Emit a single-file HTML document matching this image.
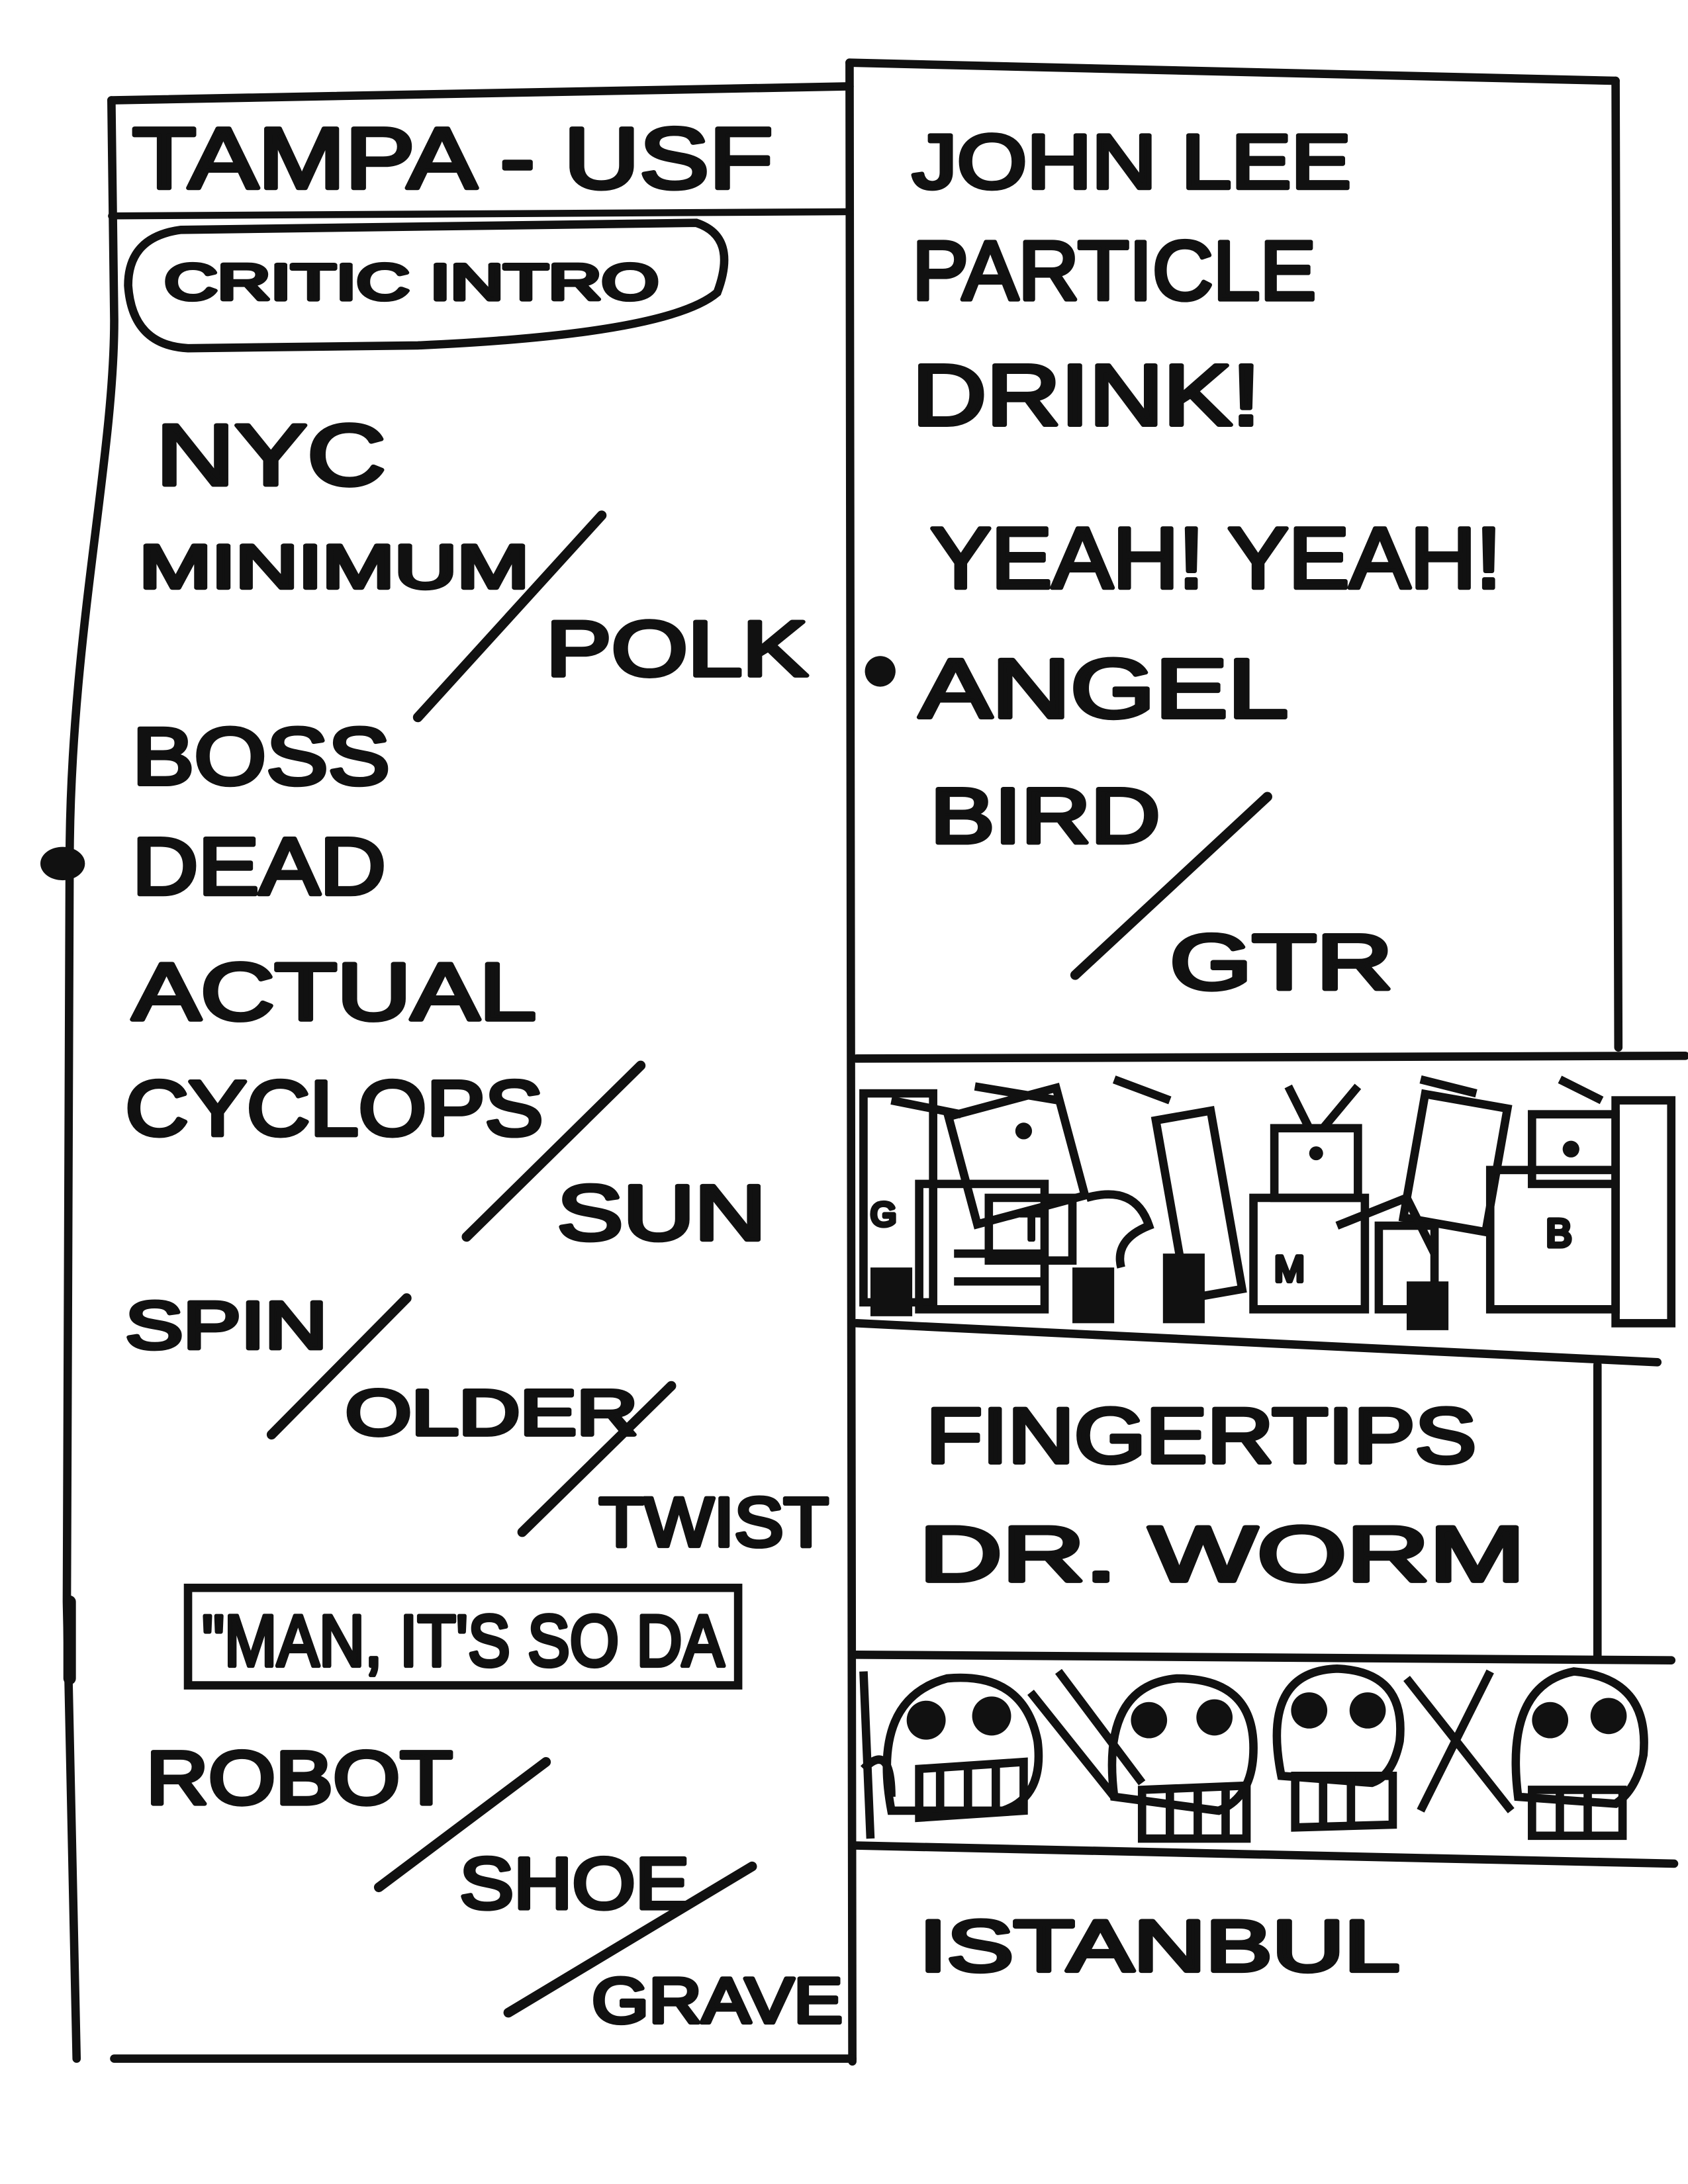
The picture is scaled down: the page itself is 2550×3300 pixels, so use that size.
<!DOCTYPE html>
<html><head><meta charset="utf-8"><style>
html,body{margin:0;padding:0;background:#fff;}
svg{display:block;}
text{font-family:"Liberation Sans",sans-serif;fill:#111;stroke:#111;stroke-width:3;stroke-linejoin:round;}
</style></head><body>
<svg width="2550" height="3300" viewBox="0 0 1212 1568" preserveAspectRatio="none" xmlns="http://www.w3.org/2000/svg">
<rect width="1212" height="1568" fill="#fff"/>
<g stroke="#111" stroke-width="6" fill="none" stroke-linecap="round">
<path d="M80 72 L82 230 C82 330 50 460 50 620 L48 1150 L55 1478"/>
<path d="M80 72 L610 62"/>
<path d="M610 45 L1160 58"/>
<path d="M610 45 L612 1480"/>
<path d="M1160 58 L1162 752"/>
<path d="M82 1478 L612 1478"/>
<path d="M80 155 L610 152" stroke-width="5"/>
<path d="M130 165 Q92 170 92 205 Q95 248 135 250 L300 248 Q480 240 515 210 Q530 170 500 160 L130 165 Z"/>
<path d="M615 760 L1210 758"/>
<path d="M615 950 L1190 978"/>
<path d="M1147 980 L1147 1190"/>
<path d="M615 1188 L1200 1192"/>
<path d="M615 1325 L1202 1338"/>
<path d="M300 515 L432 370" stroke-width="7"/>
<path d="M335 888 L460 765" stroke-width="7"/>
<path d="M195 1030 L292 932" stroke-width="7"/>
<path d="M375 1100 L482 995" stroke-width="7"/>
<path d="M272 1355 L392 1265" stroke-width="7"/>
<path d="M365 1445 L540 1340" stroke-width="7"/>
<path d="M772 700 L910 572" stroke-width="7"/>
<path d="M50 1150 L50 1205" stroke-width="9"/>
</g>
<ellipse cx="45" cy="620" rx="16" ry="12" fill="#111"/>
<circle cx="632" cy="482" r="11" fill="#111"/>

<g stroke="#111" stroke-width="6" fill="none">
<rect x="620" y="785" width="50" height="150"/>
<rect x="660" y="850" width="90" height="90"/>
<rect x="690" y="790" width="80" height="80" transform="rotate(-15 730 830)"/>
<rect x="710" y="860" width="60" height="45"/>
<path d="M780 860 Q815 850 825 880 Q800 890 805 910"/>
<rect x="840" y="800" width="40" height="130" transform="rotate(-10 860 860)"/>
<rect x="900" y="860" width="80" height="80"/>
<rect x="915" y="810" width="60" height="50"/>
<path d="M940 810 L925 780 M950 810 L975 780"/>
<rect x="1015" y="790" width="60" height="90" transform="rotate(10 1045 835)"/>
<rect x="1070" y="840" width="90" height="100"/>
<rect x="1100" y="800" width="60" height="50"/>
<rect x="990" y="880" width="40" height="60"/>
<rect x="1160" y="790" width="40" height="160"/>
<path d="M640 790 L690 800 M700 780 L760 790 M800 775 L840 790 M1020 775 L1060 785 M1120 775 L1150 790"/>
<path d="M960 880 L1010 860 L1030 900 M685 900 L750 900 M685 920 L750 920"/>
</g>
<g fill="#111">
<rect x="625" y="910" width="30" height="35"/>
<rect x="770" y="910" width="30" height="40"/>
<rect x="835" y="900" width="30" height="50"/>
<rect x="1010" y="920" width="30" height="35"/>
<circle cx="735" cy="812" r="6"/><circle cx="1128" cy="825" r="6"/><circle cx="945" cy="828" r="5"/>
</g>
<text x="732" y="890" font-size="28" stroke-width="1">T</text>
<text x="915" y="920" font-size="26" stroke-width="1">M</text>
<text x="1110" y="895" font-size="28" stroke-width="1">B</text>
<text x="625" y="880" font-size="24" stroke-width="1">G</text>

<g stroke="#111" stroke-width="6" fill="none">
<path d="M640 1300 Q625 1220 680 1205 Q735 1200 745 1250 Q750 1290 720 1300 Z"/>
<path d="M660 1270 L735 1265 L735 1300 L660 1305 Z"/>
<path d="M800 1290 Q790 1210 845 1205 Q900 1205 900 1255 Q900 1290 875 1300 Z"/>
<path d="M820 1285 L895 1282 L895 1320 L820 1320 Z"/>
<path d="M920 1275 Q905 1200 960 1198 Q1010 1200 1005 1250 Q1000 1275 985 1280 Z"/>
<path d="M930 1275 L1000 1275 L1000 1310 L930 1312 Z"/>
<path d="M1090 1290 Q1080 1210 1130 1200 Q1185 1205 1180 1260 Q1175 1285 1160 1295 Z"/>
<path d="M1100 1285 L1165 1285 L1165 1318 L1100 1318 Z"/>
<path d="M740 1215 L800 1290 M760 1200 L820 1280"/>
<path d="M1010 1205 L1085 1300 M1070 1200 L1020 1300"/>
<path d="M620 1200 L625 1320 M620 1270 Q640 1250 640 1290"/>
<path d="M675 1270 L675 1300 M695 1270 L695 1300 M715 1268 L715 1300 M840 1285 L840 1320 M860 1285 L860 1320 M880 1285 L880 1320 M950 1275 L950 1310 M970 1275 L970 1310 M1120 1285 L1120 1318 M1140 1285 L1140 1318"/>
</g>
<g fill="#111">
<circle cx="665" cy="1235" r="14"/><circle cx="712" cy="1232" r="14"/>
<circle cx="825" cy="1235" r="13"/><circle cx="872" cy="1233" r="13"/>
<circle cx="940" cy="1228" r="13"/><circle cx="982" cy="1228" r="13"/>
<circle cx="1113" cy="1235" r="13"/><circle cx="1155" cy="1232" r="13"/>
</g>

<text x="95" y="135" font-size="62" textLength="460" lengthAdjust="spacingAndGlyphs">TAMPA - USF</text>
<text x="118" y="215" font-size="36" textLength="355" lengthAdjust="spacingAndGlyphs">CRITIC  INTRO</text>
<text x="112" y="348" font-size="62" textLength="165" lengthAdjust="spacingAndGlyphs">NYC</text>
<text x="100" y="422" font-size="44" textLength="280" lengthAdjust="spacingAndGlyphs">MINIMUM</text>
<text x="392" y="485" font-size="56" textLength="188" lengthAdjust="spacingAndGlyphs">POLK</text>
<text x="95" y="563" font-size="58" textLength="185" lengthAdjust="spacingAndGlyphs">BOSS</text>
<text x="95" y="642" font-size="58" textLength="182" lengthAdjust="spacingAndGlyphs">DEAD</text>
<text x="95" y="732" font-size="58" textLength="290" lengthAdjust="spacingAndGlyphs">ACTUAL</text>
<text x="90" y="815" font-size="56" textLength="300" lengthAdjust="spacingAndGlyphs">CYCLOPS</text>
<text x="400" y="890" font-size="56" textLength="150" lengthAdjust="spacingAndGlyphs">SUN</text>
<text x="90" y="968" font-size="48" textLength="145" lengthAdjust="spacingAndGlyphs">SPIN</text>
<text x="248" y="1030" font-size="46" textLength="210" lengthAdjust="spacingAndGlyphs">OLDER</text>
<text x="430" y="1110" font-size="50" textLength="165" lengthAdjust="spacingAndGlyphs">TWIST</text>
<rect x="135" y="1140" width="395" height="70" fill="none" stroke="#111" stroke-width="6"/>
<text x="145" y="1196" font-size="52" textLength="375" lengthAdjust="spacingAndGlyphs">"MAN, IT'S SO DA</text>
<text x="105" y="1295" font-size="54" textLength="220" lengthAdjust="spacingAndGlyphs">ROBOT</text>
<text x="330" y="1370" font-size="52" textLength="165" lengthAdjust="spacingAndGlyphs">SHOE</text>
<text x="425" y="1452" font-size="46" textLength="180" lengthAdjust="spacingAndGlyphs">GRAVE</text>

<text x="655" y="135" font-size="55" textLength="315" lengthAdjust="spacingAndGlyphs">JOHN LEE</text>
<text x="655" y="215" font-size="60" textLength="290" lengthAdjust="spacingAndGlyphs">PARTICLE</text>
<text x="655" y="305" font-size="62" textLength="250" lengthAdjust="spacingAndGlyphs">DRINK!</text>
<text x="668" y="422" font-size="62" textLength="410" lengthAdjust="spacingAndGlyphs">YEAH! YEAH!</text>
<text x="660" y="515" font-size="60" textLength="265" lengthAdjust="spacingAndGlyphs">ANGEL</text>
<text x="668" y="605" font-size="56" textLength="165" lengthAdjust="spacingAndGlyphs">BIRD</text>
<text x="840" y="710" font-size="56" textLength="160" lengthAdjust="spacingAndGlyphs">GTR</text>
<text x="665" y="1050" font-size="56" textLength="395" lengthAdjust="spacingAndGlyphs">FINGERTIPS</text>
<text x="660" y="1135" font-size="56" textLength="435" lengthAdjust="spacingAndGlyphs">DR.  WORM</text>
<text x="660" y="1415" font-size="52" textLength="345" lengthAdjust="spacingAndGlyphs">ISTANBUL</text>
</svg>
</body></html>
